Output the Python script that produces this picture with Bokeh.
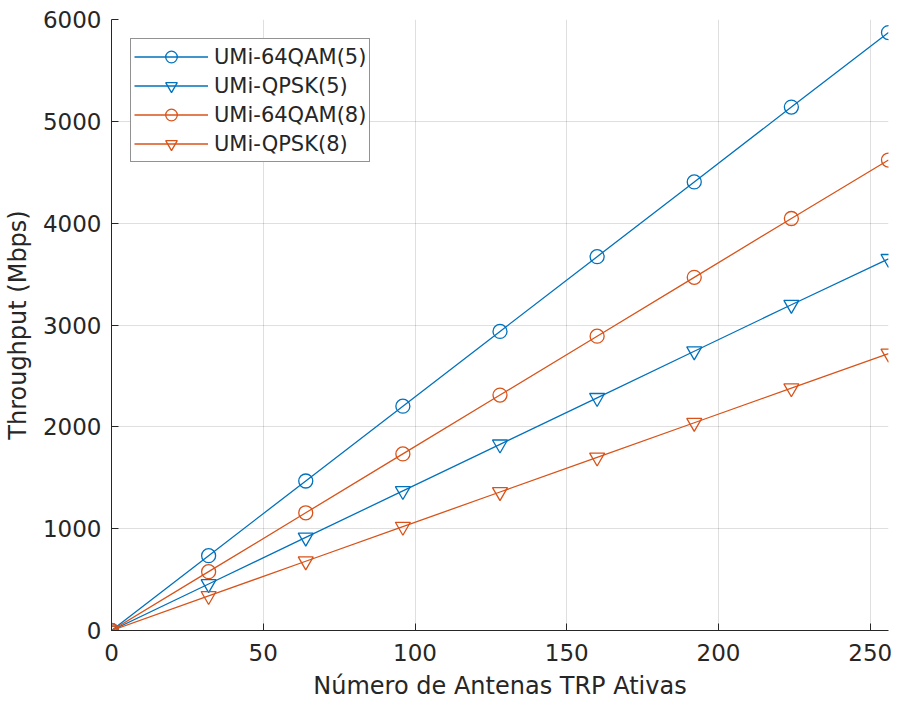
from bokeh.plotting import figure
from bokeh.models import FixedTicker, Range1d, Legend, LegendItem
from bokeh.embed import file_html
from bokeh.resources import INLINE

# Data
antenas = [0, 32, 64, 96, 128, 160, 192, 224, 256]
qam64_5 = [0, 735, 1468, 2203, 2937, 3671, 4405, 5140, 5872]
qpsk_5 = [0, 457, 914, 1371, 1828, 2285, 2742, 3199, 3650]
qam64_8 = [0, 578, 1156, 1734, 2312, 2890, 3468, 4046, 4620]
qpsk_8 = [0, 340, 680, 1020, 1360, 1700, 2040, 2380, 2720]

series = [
    ("UMi-64QAM(5)", qam64_5, "#0072BD", "circle"),
    ("UMi-QPSK(5)", qpsk_5, "#0072BD", "inverted_triangle"),
    ("UMi-64QAM(8)", qam64_8, "#D95319", "circle"),
    ("UMi-QPSK(8)", qpsk_8, "#D95319", "inverted_triangle"),
]

x_ticks = [0, 50, 100, 150, 200, 250]
y_ticks = [0, 1000, 2000, 3000, 4000, 5000, 6000]

FONT = "DejaVu Sans"
TXT = "#262626"

p = figure(width=895, height=703, output_backend="svg", toolbar_location=None,
           x_range=Range1d(0, 256), y_range=Range1d(0, 6000),
           min_border_left=110, min_border_top=19, min_border_right=7, min_border_bottom=73)
p.outline_line_color = None
p.background_fill_color = "white"
p.border_fill_color = "white"

items = []
for name, ys, col, mk in series:
    r1 = p.line(antenas, ys, line_color=col, line_width=1.3)
    r2 = p.scatter(antenas, ys, marker=mk, size=14 if mk == "circle" else 15,
                   line_color=col, fill_color=None, line_width=1.3)
    items.append(LegendItem(label=name, renderers=[r1, r2]))

leg = Legend(items=items, location="top_left")
leg.margin = 19
leg.padding = 3
leg.spacing = 0
leg.glyph_width = 74
leg.glyph_height = 29
leg.label_height = 29
leg.label_width = 148
leg.label_standoff = 6
leg.label_text_font = FONT
leg.label_text_font_size = "21px"
leg.label_text_color = TXT
leg.border_line_color = TXT
leg.border_line_width = 1
leg.background_fill_color = "white"
leg.background_fill_alpha = 1
p.add_layout(leg)

for ax in (p.xaxis, p.yaxis):
    ax.axis_line_color = TXT
    ax.axis_line_width = 1
    ax.major_tick_line_color = TXT
    ax.major_tick_in = 7
    ax.major_tick_out = 0
    ax.minor_tick_line_color = None
    ax.major_label_text_font = FONT
    ax.major_label_text_font_size = "23px"
    ax.major_label_text_color = TXT
    ax.axis_label_text_font = FONT
    ax.axis_label_text_font_size = "24px"
    ax.axis_label_text_font_style = "normal"
    ax.axis_label_text_color = TXT

p.xaxis.ticker = FixedTicker(ticks=x_ticks)
p.yaxis.ticker = FixedTicker(ticks=y_ticks)
p.xaxis.axis_label = "Número de Antenas TRP Ativas"
p.yaxis.axis_label = "Throughput (Mbps)"
p.xaxis.major_label_standoff = 13
p.xaxis.axis_label_standoff = 8
p.yaxis.major_label_standoff = 10
p.yaxis.axis_label_standoff = 8

for g in (p.xgrid, p.ygrid):
    g.grid_line_color = TXT
    g.grid_line_alpha = 0.15
    g.grid_line_width = 1
p.xgrid.ticker = FixedTicker(ticks=x_ticks)
p.ygrid.ticker = FixedTicker(ticks=y_ticks)

open("out.html", "w").write(file_html(p, INLINE))
